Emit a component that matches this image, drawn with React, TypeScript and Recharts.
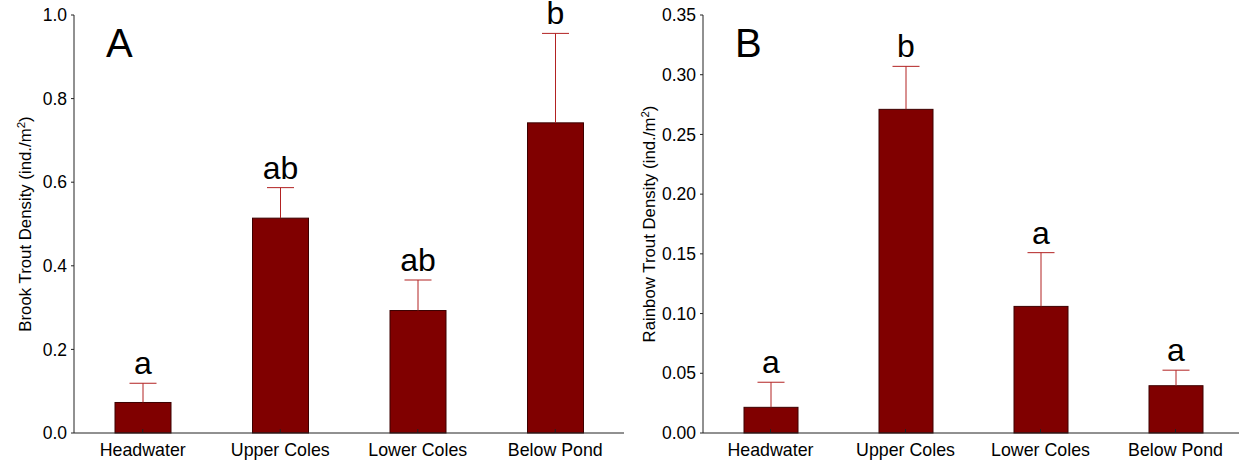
import React from "react";
import { BarChart, Bar, XAxis, YAxis, Customized } from "recharts";

const sites = ["Headwater", "Upper Coles", "Lower Coles", "Below Pond"];
const brookMean = [0.073, 0.514, 0.293, 0.742];
const brookSE = [0.046, 0.073, 0.073, 0.214];
const brookGroup = ["a", "ab", "ab", "b"];
const rainbowMean = [0.0215, 0.271, 0.106, 0.0396];
const rainbowSE = [0.021, 0.036, 0.045, 0.013];
const rainbowGroup = ["a", "b", "a", "a"];
const brookTicks = [0, 0.2, 0.4, 0.6, 0.8, 1.0];
const rainbowTicks = [0, 0.05, 0.1, 0.15, 0.2, 0.25, 0.3, 0.35];

const FONT = "'Liberation Sans', Arial, sans-serif";
const BAR = "#800000";
const ERR = "#b22222";

const build = (mean: number[], se: number[], grp: string[]) =>
  sites.map((site, i) => ({ site, mean: mean[i], se: se[i], grp: grp[i] }));

// bar + one-sided error bar + significance letter
const BarWithError = (props: any) => {
  const { x, y, width, height, payload } = props;
  const perUnit = payload.mean ? height / payload.mean : 0;
  const top = y - payload.se * perUnit;
  const cx = x + width / 2;
  return (
    <g>
      <rect x={x} y={y} width={width} height={height} fill={BAR} stroke="#3c0000" strokeWidth={1} />
      <line x1={cx} y1={y} x2={cx} y2={top} stroke={ERR} strokeWidth={1} />
      <line x1={cx - 13.5} y1={top} x2={cx + 13.5} y2={top} stroke={ERR} strokeWidth={1} />
      <text x={cx} y={top - 9} textAnchor="middle" fontSize={32} fontFamily={FONT} fill="#000">
        {payload.grp}
      </text>
    </g>
  );
};

const XTick = (props: any) => {
  const { x, y, payload } = props;
  return (
    <g>
      <line x1={x} y1={y} x2={x} y2={y - 4} stroke="#222" />
      <text x={x} y={y + 23} textAnchor="middle" fontSize={17.8} fontFamily={FONT} fill="#000">
        {payload.value}
      </text>
    </g>
  );
};

const yLabel = (name: string, xPos: number) => (p: any) => {
  const vb = p.viewBox;
  const cy = vb.y + vb.height / 2;
  return (
    <text
      x={xPos}
      y={cy}
      transform={`rotate(-90, ${xPos}, ${cy})`}
      textAnchor="middle"
      fontSize={16.8}
      fontFamily={FONT}
      fill="#000"
    >
      {name} (ind./m
      <tspan dy={-6} fontSize={11.5}>2</tspan>
      <tspan dy={6}>)</tspan>
    </text>
  );
};

const Panel = (props: {
  data: any[];
  ticks: number[];
  digits: number;
  max: number;
  width: number;
  yWidth: number;
  right: number;
  barSize: number;
  tag: string;
  tagX: number;
  label: string;
  labelX: number;
}) => (
  <BarChart
    width={props.width}
    height={461}
    data={props.data}
    margin={{ top: 15, right: props.right, left: 0, bottom: 0 }}
    barSize={props.barSize}
  >
    <XAxis
      dataKey="site"
      height={28}
      tickLine={false}
      tickSize={0}
      tickMargin={0}
      axisLine={{ stroke: "#222" }}
      tick={<XTick />}
      interval={0}
    />
    <YAxis
      width={props.yWidth}
      domain={[0, props.max]}
      ticks={props.ticks}
      tickFormatter={(v: number) => v.toFixed(props.digits)}
      tickSize={3}
      tickMargin={4}
      axisLine={{ stroke: "#222" }}
      tickLine={{ stroke: "#222" }}
      tick={{ fontSize: 17.5, fontFamily: FONT, fill: "#000" }}
      label={{ content: yLabel(props.label, props.labelX) }}
    />
    <Bar dataKey="mean" isAnimationActive={false} shape={<BarWithError />} />
    <Customized
      component={() => (
        <text x={props.tagX} y={57} fontSize={40} fontFamily={FONT} fill="#000">
          {props.tag}
        </text>
      )}
    />
  </BarChart>
);

export default function App() {
  return (
    <div
      style={{
        position: "absolute",
        left: 0,
        top: 0,
        width: 1239,
        height: 461,
        overflow: "hidden",
        background: "#fff",
      }}
    >
      <div style={{ position: "absolute", left: 0, top: 0 }}>
        <Panel
          data={build(brookMean, brookSE, brookGroup)}
          ticks={brookTicks}
          digits={1}
          max={1}
          width={630}
          yWidth={74}
          right={6}
          barSize={56}
          tag="A"
          tagX={106}
          label="Brook Trout Density"
          labelX={31}
        />
      </div>
      <div style={{ position: "absolute", left: 630, top: 0 }}>
        <Panel
          data={build(rainbowMean, rainbowSE, rainbowGroup)}
          ticks={rainbowTicks}
          digits={2}
          max={0.35}
          width={613}
          yWidth={73}
          right={0}
          barSize={54}
          tag="B"
          tagX={105}
          label="Rainbow Trout Density"
          labelX={25}
        />
      </div>
    </div>
  );
}
